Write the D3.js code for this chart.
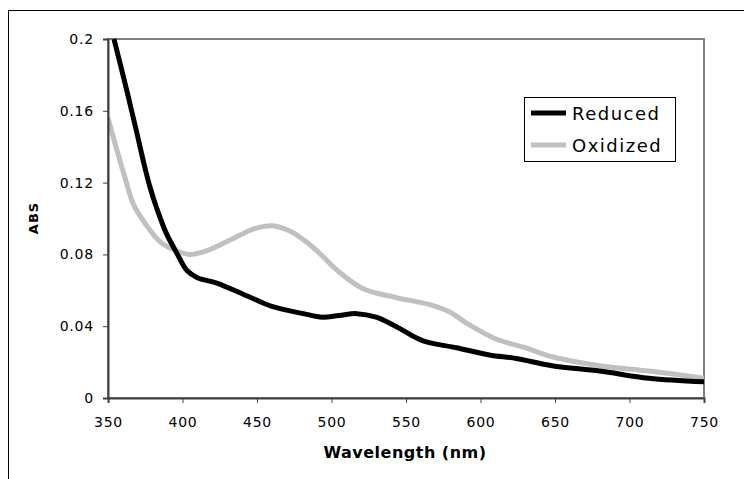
<html>
<head>
<script src="https://d3js.org/d3.v7.min.js" charset="utf-8"></script>
<style>
  body { margin: 0; background: white; }
  text { font-family: "DejaVu Sans", Verdana, sans-serif; fill: #000; }
</style>
</head>
<body>
<script>
// values
var redNm  = [354, 363, 369, 374, 378, 383, 389, 396, 403, 410, 423, 443, 460, 481, 494, 505, 517, 530, 543, 561, 584, 606, 624, 648, 680, 713, 750];
var redAbs = [0.200, 0.170, 0.149, 0.131, 0.118, 0.105, 0.092, 0.081, 0.071, 0.067, 0.064, 0.057, 0.051, 0.047, 0.045, 0.046, 0.047, 0.045, 0.040, 0.032, 0.028, 0.024, 0.022, 0.018, 0.015, 0.011, 0.009];
var oxNm   = [350, 356, 362, 367, 376, 385, 396, 405, 416, 432, 447, 460, 472, 483, 494, 504, 521, 543, 566, 579, 592, 610, 630, 648, 680, 713, 750];
var oxAbs  = [0.156, 0.138, 0.121, 0.108, 0.096, 0.087, 0.082, 0.080, 0.082, 0.088, 0.094, 0.096, 0.093, 0.087, 0.079, 0.071, 0.061, 0.056, 0.052, 0.048, 0.041, 0.033, 0.028, 0.023, 0.018, 0.015, 0.011];

var xTicks = [350, 400, 450, 500, 550, 600, 650, 700, 750];
var yTicks = [0, 0.04, 0.08, 0.12, 0.16, 0.2];
var seriesNames = ["Reduced", "Oxidized"];
var seriesColors = ["#000000", "#c0c0c0"];

var width = 744, height = 479;
// plot area edges (avoid the name "top", it is window.top)
var pLeft = 108, pRight = 704, pTop = 39, pBottom = 398;

var svg = d3.select("body").append("svg")
  .attr("width", width)
  .attr("height", height);

// outer chart border
svg.append("rect")
  .attr("x", 8.5).attr("y", 10.5)
  .attr("width", 800).attr("height", 600)
  .attr("fill", "none").attr("stroke", "#000").attr("stroke-width", 1);

var x = d3.scaleLinear().domain([350, 750]).range([pLeft, pRight]);
var y = d3.scaleLinear().domain([0, 0.2]).range([pBottom, pTop]);

// plot area border (top and right in gray)
svg.append("rect")
  .attr("x", pLeft).attr("y", pTop)
  .attr("width", pRight - pLeft).attr("height", pBottom - pTop)
  .attr("fill", "none").attr("stroke", "#808080").attr("stroke-width", 2);

svg.append("clipPath").attr("id", "plot")
  .append("rect")
  .attr("x", pLeft).attr("y", pTop - 3)
  .attr("width", pRight - pLeft).attr("height", pBottom - pTop + 3);

var line = d3.line()
  .x(function(d) { return x(d[0]); })
  .y(function(d) { return y(d[1]); })
  .curve(d3.curveCatmullRom.alpha(0.5));

var g = svg.append("g").attr("clip-path", "url(#plot)");

g.append("path")
  .datum(oxNm.map(function(v, i) { return [v, oxAbs[i]]; }))
  .attr("fill", "none")
  .attr("stroke", seriesColors[1])
  .attr("stroke-width", 5)
  .attr("d", line);

g.append("path")
  .datum(redNm.map(function(v, i) { return [v, redAbs[i]]; }))
  .attr("fill", "none")
  .attr("stroke", seriesColors[0])
  .attr("stroke-width", 5)
  .attr("d", line);

// axes
var xAxis = svg.append("g")
  .attr("transform", "translate(0," + pBottom + ")")
  .call(d3.axisBottom(x).tickValues(xTicks).tickSize(5).tickPadding(14).tickFormat(d3.format("d")));

var yAxis = svg.append("g")
  .attr("transform", "translate(" + pLeft + ",0)")
  .call(d3.axisLeft(y).tickValues(yTicks).tickSize(5).tickPadding(9).tickFormat(function(d) { return d === 0 ? "0" : String(+d.toFixed(2)); }));

[xAxis, yAxis].forEach(function(a) {
  a.select(".domain").attr("stroke", "#404040").attr("stroke-width", 2);
  a.selectAll(".tick line").attr("stroke", "#404040");
  a.selectAll(".tick text")
    .style("font-family", "'DejaVu Sans', Verdana, sans-serif")
    .style("font-size", "14px")
    .style("letter-spacing", "0.8px")
    .attr("fill", "#000");
});

// axis titles
svg.append("text")
  .attr("x", 405).attr("y", 458)
  .attr("text-anchor", "middle")
  .style("font-size", "16px").style("font-weight", "bold").style("letter-spacing", "0.5px")
  .text("Wavelength (nm)");

svg.append("text")
  .attr("transform", "translate(38,218) rotate(-90)")
  .attr("text-anchor", "middle")
  .style("font-size", "13px").style("font-weight", "bold").style("letter-spacing", "1px")
  .text("ABS");

// legend
var legend = svg.append("g");
legend.append("rect")
  .attr("x", 524.5).attr("y", 97.5)
  .attr("width", 151).attr("height", 64)
  .attr("fill", "white").attr("stroke", "#000").attr("stroke-width", 1);

seriesNames.forEach(function(name, i) {
  var ly = 113 + i * 32;
  legend.append("line")
    .attr("x1", 531).attr("x2", 566)
    .attr("y1", ly).attr("y2", ly)
    .attr("stroke", seriesColors[i]).attr("stroke-width", 5);
  legend.append("text")
    .attr("x", 572).attr("y", ly + 6.5)
    .style("font-size", "18px").style("letter-spacing", "1.5px")
    .text(name);
});
</script>
</body>
</html>
